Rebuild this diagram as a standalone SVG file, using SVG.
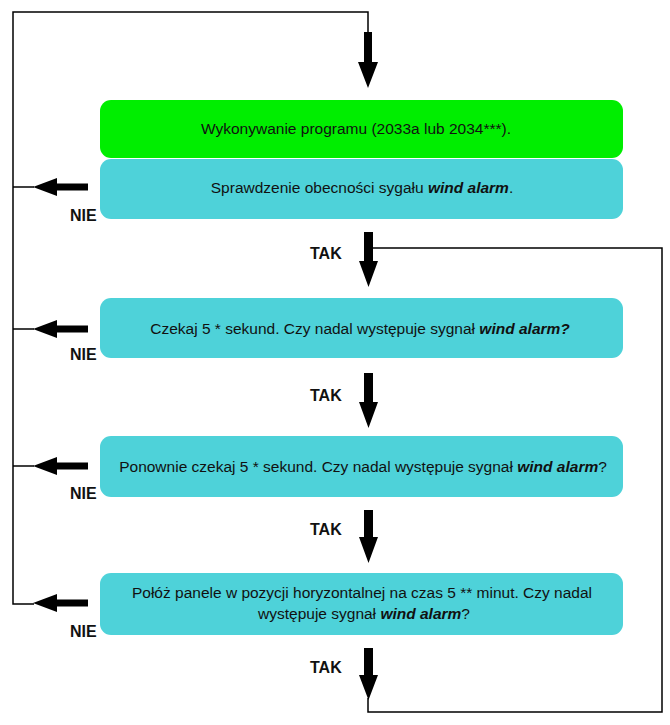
<svg xmlns="http://www.w3.org/2000/svg" width="670" height="725" viewBox="0 0 670 725">
<style>
.bx{stroke:none}
.g{fill:#00EE00}
.c{fill:#4ED2D9}
.t{font-family:"Liberation Sans",Arial,sans-serif;font-size:15.5px;fill:#111;text-anchor:middle}
.bi{font-weight:bold;font-style:italic}
.lb{font-family:"Liberation Sans",Arial,sans-serif;font-size:16px;font-weight:bold;fill:#111}
.ln{fill:none;stroke:#000;stroke-width:1.5}
.ar{fill:#000}
</style>
<rect width="670" height="725" fill="#fff"/>
<g id="connectors">
<polyline class="ln" points="368,34 368,12 13,12 13,604 34,604"/>
<line class="ln" x1="13" y1="187" x2="34" y2="187"/>
<line class="ln" x1="13" y1="329" x2="34" y2="329"/>
<line class="ln" x1="13" y1="466" x2="34" y2="466"/>
<polyline class="ln" points="372,248 662,248 662,712 368,712 368,698"/>
<polygon class="ar" points="364,32 372,32 372,62 378,62 368,88 358,62 364,62"/>
<polygon class="ar" points="364,232 373,232 373,261 378,261 368.5,287 359,261 364,261"/>
<polygon class="ar" points="364,373 373,373 373,402 378,402 368.5,428 359,402 364,402"/>
<polygon class="ar" points="364,510 373,510 373,537 378,537 368.5,563 359,537 364,537"/>
<polygon class="ar" points="364,648 373,648 373,675 378,675 368.5,700 359,675 364,675"/>
<polygon class="ar" points="88,183.5 88,190.5 57,190.5 57,196 33,187 57,178 57,183.5"/>
<polygon class="ar" points="88,325.5 88,332.5 57,332.5 57,338 33,329 57,320 57,325.5"/>
<polygon class="ar" points="88,462.5 88,469.5 57,469.5 57,475 33,466 57,457 57,462.5"/>
<polygon class="ar" points="88,599.5 88,606.5 57,606.5 57,612 33,603 57,594 57,599.5"/>
<text class="lb" x="70" y="221">NIE</text>
<text class="lb" x="70" y="360">NIE</text>
<text class="lb" x="70" y="499">NIE</text>
<text class="lb" x="70" y="637">NIE</text>
<text class="lb" x="310" y="259">TAK</text>
<text class="lb" x="310" y="401">TAK</text>
<text class="lb" x="310" y="535">TAK</text>
<text class="lb" x="310" y="673">TAK</text>
</g>
<g id="n1">
<rect class="bx g" x="100" y="100" width="523" height="58" rx="11"/>
<text class="t" x="356" y="134">Wykonywanie programu (2033a lub 2034***).</text>
</g>
<g id="n2">
<rect class="bx c" x="100" y="159" width="523" height="60" rx="11"/>
<text class="t" x="362" y="193">Sprawdzenie obecności sygału <tspan class="bi">wind alarm</tspan>.</text>
</g>
<g id="n3">
<rect class="bx c" x="100" y="298" width="523" height="60" rx="11"/>
<text class="t" x="360" y="334">Czekaj 5 * sekund. Czy nadal występuje sygnał <tspan class="bi">wind alarm?</tspan></text>
</g>
<g id="n4">
<rect class="bx c" x="100" y="436" width="523" height="61" rx="11"/>
<text class="t" x="363" y="472">Ponownie czekaj 5 * sekund. Czy nadal występuje sygnał <tspan class="bi">wind alarm</tspan>?</text>
</g>
<g id="n5">
<rect class="bx c" x="100" y="573" width="523" height="62" rx="11"/>
<text class="t" x="362" y="598">Połóż panele w pozycji horyzontalnej na czas 5 ** minut. Czy nadal</text>
<text class="t" x="364" y="619">występuje sygnał <tspan class="bi">wind alarm</tspan>?</text>
</g>
</svg>
